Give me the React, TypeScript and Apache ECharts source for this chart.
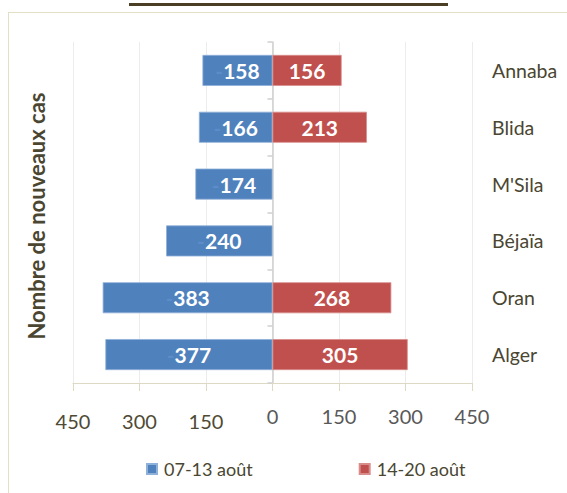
import React, { useEffect, useRef } from "react";
import * as echarts from "echarts";

const cities = ["Annaba", "Blida", "M'Sila", "Béjaïa", "Oran", "Alger"];
const week1 = [158, 166, 174, 240, 383, 377];
const week2: (number | null)[] = [156, 213, null, null, 268, 305];
const seriesNames = ["07-13 août", "14-20 août"];
const yTitle = "Nombre de nouveaux cas";

const FONT = "Lato, 'Open Sans', sans-serif";
const DARK = "#4A4631";

export default function App() {
  const ref = useRef<HTMLDivElement>(null);
  useEffect(() => {
    document.body.style.margin = "0";
    if (!ref.current) return;
    const chart = echarts.init(ref.current, undefined, { renderer: "svg" });
    chart.setOption({
      animation: false,
      backgroundColor: "#ffffff",
      textStyle: { fontFamily: FONT },
      graphic: [
        { type: "rect", shape: { x: 129, y: 3, width: 319, height: 3 }, style: { fill: "#4A3F25" } },
        { type: "line", shape: { x1: 8, y1: 12.5, x2: 567, y2: 12.5 }, style: { stroke: "#E4E0C8", lineWidth: 1 } },
        { type: "line", shape: { x1: 8.5, y1: 12, x2: 8.5, y2: 493 }, style: { stroke: "#E4E0C8", lineWidth: 1 } },
        {
          type: "text",
          x: 36,
          y: 216,
          rotation: Math.PI / 2,
          style: {
            text: yTitle,
            fill: DARK,
            font: `bold 22px ${FONT}`,
            align: "center",
            verticalAlign: "middle",
          },
        },
      ],
      legend: {
        data: seriesNames,
        left: 146,
        top: 460,
        padding: 0,
        itemWidth: 10,
        itemHeight: 10,
        itemGap: 106,
        icon: "rect",
        textStyle: { color: DARK, fontSize: 18, fontFamily: FONT, padding: [0, 0, 0, 2] },
      },
      grid: { left: 73, right: 95, top: 42, bottom: 110 },
      xAxis: {
        type: "value",
        min: -450,
        max: 450,
        interval: 150,
        axisLine: { show: true, onZero: false, lineStyle: { color: "#DDD9C3", width: 1 } },
        axisTick: { show: true, length: 8, lineStyle: { color: "#DDD9C3" } },
        splitLine: { show: true, lineStyle: { color: "#ECECEC" } },
        axisLabel: {
          margin: 23,
          formatter: (v: number) => (v < 0 ? `{a|${Math.abs(v)}}` : `{b|${v}}`),
          rich: {
            a: { color: "#4F4A33", fontSize: 20, fontFamily: FONT, padding: [5, 0, 0, 0] },
            b: { color: "#595959", fontSize: 20, fontFamily: FONT },
          },
        },
      },
      yAxis: [
        {
          type: "category",
          data: cities,
          inverse: true,
          position: "left",
          axisLine: { show: true, onZero: true, lineStyle: { color: "#CFCFCF", width: 1.5 } },
          axisTick: { show: true, length: 5, lineStyle: { color: "#CFCFCF", width: 1.5 } },
          axisLabel: { show: false },
          splitLine: { show: false },
        },
        {
          type: "category",
          data: cities,
          inverse: true,
          position: "right",
          axisLine: { show: false },
          axisTick: { show: false },
          axisLabel: { show: true, color: DARK, fontSize: 19.5, fontFamily: FONT, margin: 20, align: "left" },
          splitLine: { show: false },
        },
      ],
      series: [
        {
          name: seriesNames[0],
          type: "bar",
          stack: "total",
          yAxisIndex: 0,
          barWidth: 31,
          data: week1.map((v) => -v),
          itemStyle: { color: "#4F81BD", borderColor: "#8FB0D8", borderWidth: 0.8 },
          label: {
            show: true,
            position: "inside",
            formatter: (p: any) => `{m|-}{v|${Math.abs(p.value)}}`,
            rich: {
              m: { color: "#5C8CC9", fontSize: 21, fontWeight: "bold", fontFamily: FONT },
              v: { color: "#ffffff", fontSize: 21, fontWeight: "bold", fontFamily: FONT },
            },
          },
        },
        {
          name: seriesNames[1],
          type: "bar",
          stack: "total",
          yAxisIndex: 0,
          barWidth: 31,
          data: week2,
          itemStyle: { color: "#C0504D", borderColor: "#D88D8B", borderWidth: 0.8 },
          label: {
            show: true,
            position: "inside",
            color: "#ffffff",
            fontSize: 21,
            fontWeight: "bold",
            fontFamily: FONT,
            formatter: (p: any) => (p.value ? `${p.value}` : ""),
          },
        },
      ],
      color: ["#4F81BD", "#C0504D"],
    });
    return () => chart.dispose();
  }, []);
  return <div ref={ref} style={{ width: 567, height: 493 }} />;
}
